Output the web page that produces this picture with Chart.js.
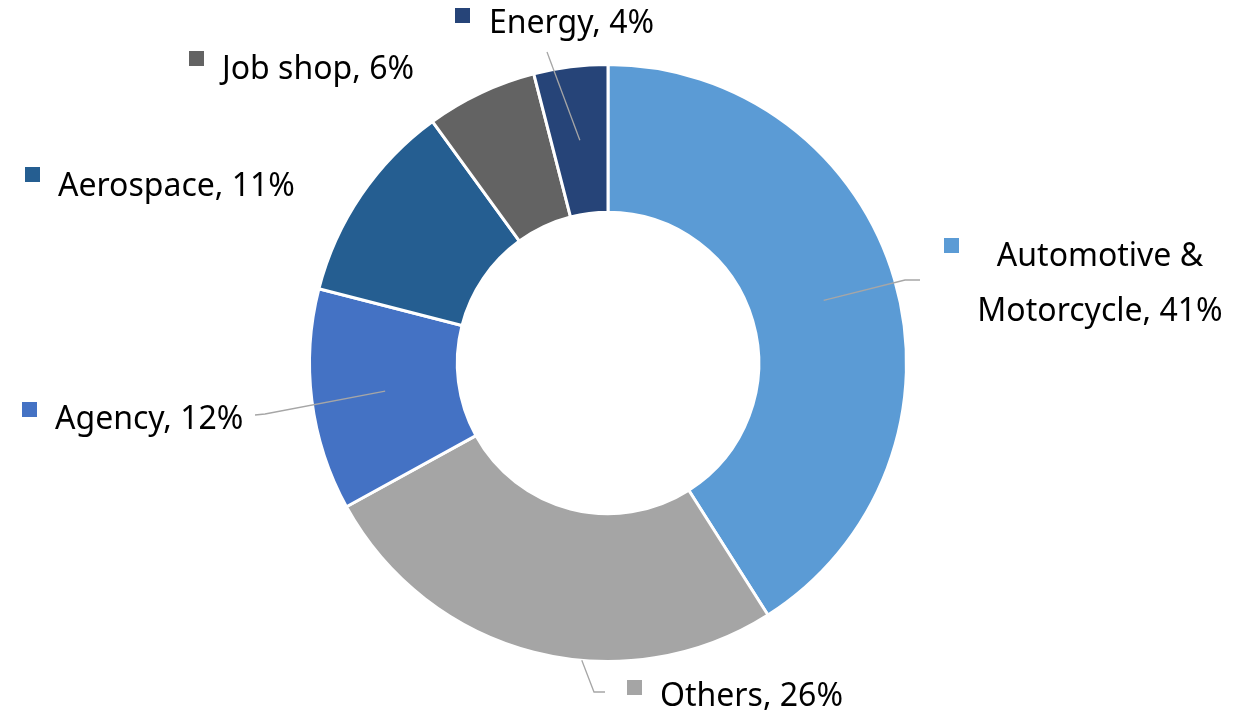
<!DOCTYPE html>
<html>
<head>
<meta charset="utf-8">
<script src="https://cdn.jsdelivr.net/npm/chart.js@4.4.0/dist/chart.umd.min.js"></script>
<style>
    html, body { margin: 0; padding: 0; background: #ffffff; }
    #wrap { width: 1234px; height: 715px; position: relative; }
</style>
</head>
<body>
<div id="wrap"><canvas id="industryChart"></canvas></div>
<script>
// Data
const categories = ['Automotive & Motorcycle', 'Others', 'Agency', 'Aerospace', 'Job shop', 'Energy'];
const shares = [41, 26, 12, 11, 6, 4];
const sliceColors = ['#5B9BD5', '#A5A5A5', '#4472C4', '#255E91', '#636363', '#264478'];

// Label layout (text lines, where the key square / text sit, leader elbows)
const labelLayout = [
    { lines: ['Automotive &', 'Motorcycle, 41%'], align: 'center', x: 1100, y: 257, lineGap: 55, keyX: 944, keyY: 238,
      leader: [[920, 280], [905, 280]], anchor: { frac: 0.5, r: 'mid' } },
    { lines: ['Others, 26%'], align: 'left', x: 660, y: 697, keyX: 627, keyY: 680,
      leader: [[605, 692], [594, 692]], anchor: { frac: 0.4, r: 'outer' } },
    { lines: ['Agency, 12%'], align: 'left', x: 55, y: 420, keyX: 22, keyY: 402,
      leader: [[255, 415], [265, 414]], anchor: { frac: 0.5, r: 'mid' } },
    { lines: ['Aerospace, 11%'], align: 'left', x: 58, y: 187, keyX: 25, keyY: 167,
      leader: null },
    { lines: ['Job shop, 6%'], align: 'left', x: 222, y: 70, keyX: 189, keyY: 51,
      leader: null },
    { lines: ['Energy, 4%'], align: 'left', x: 489, y: 24, keyX: 455, keyY: 8,
      leader: [[547, 52]], anchor: { frac: 0.5, r: 'mid' } }
];

// Draws data labels with legend key squares and leader lines
const sliceLabels = {
    id: 'sliceLabels',
    afterDatasetsDraw(chart) {
        const ctx = chart.ctx;
        const arcs = chart.getDatasetMeta(0).data;
        ctx.save();
        labelLayout.forEach((lab, i) => {
            const arc = arcs[i];
            if (lab.leader) {
                const p = arc.getProps(['x', 'y', 'startAngle', 'endAngle', 'innerRadius', 'outerRadius'], true);
                const a = p.startAngle + (p.endAngle - p.startAngle) * lab.anchor.frac;
                const r = lab.anchor.r === 'outer' ? p.outerRadius : (p.innerRadius + p.outerRadius) / 2;
                ctx.beginPath();
                ctx.moveTo(lab.leader[0][0], lab.leader[0][1]);
                lab.leader.slice(1).forEach(pt => ctx.lineTo(pt[0], pt[1]));
                ctx.lineTo(p.x + Math.cos(a) * r, p.y + Math.sin(a) * r);
                ctx.strokeStyle = '#A6A6A6';
                ctx.lineWidth = 1.3;
                ctx.stroke();
            }
            ctx.fillStyle = sliceColors[i];
            ctx.fillRect(lab.keyX, lab.keyY, 15, 15);

            ctx.fillStyle = '#000000';
            ctx.font = "32px 'Noto Sans', sans-serif";
            ctx.textAlign = lab.align;
            ctx.textBaseline = 'middle';
            lab.lines.forEach((t, k) => {
                ctx.fillText(t, lab.x, lab.y + k * (lab.lineGap || 0));
            });
        });
        ctx.restore();
    }
};

const ctx = document.getElementById('industryChart').getContext('2d');
const industryChart = new Chart(ctx, {
    type: 'doughnut',
    data: {
        labels: categories,
        datasets: [{
            data: shares,
            backgroundColor: sliceColors,
            borderColor: '#ffffff',
            borderWidth: 3
        }]
    },
    options: {
        responsive: true,
        maintainAspectRatio: false,
        animation: false,
        cutout: '50.5%',
        layout: {
            padding: { top: 63, bottom: 52, left: 200, right: 218 }
        },
        plugins: {
            legend: { display: false },
            tooltip: { enabled: false }
        }
    },
    plugins: [sliceLabels]
});
</script>
</body>
</html>
